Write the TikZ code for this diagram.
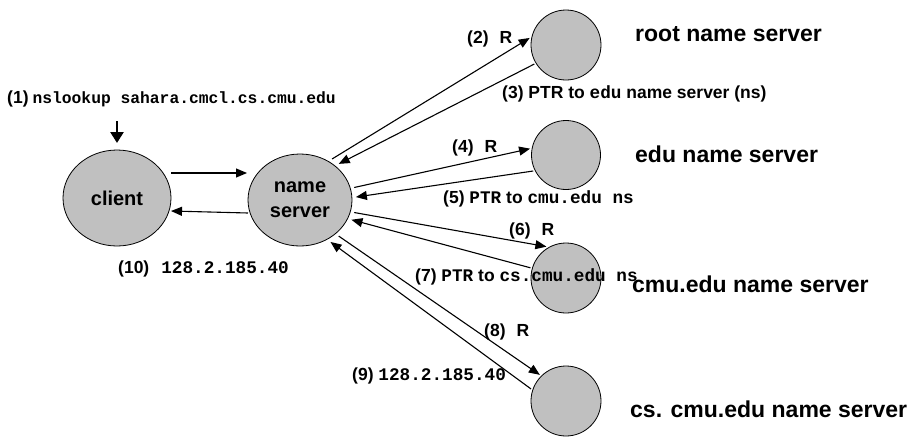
\documentclass[tikz,border=0pt]{standalone}
\usepackage{fontspec}
\setmainfont{Liberation Sans}
\newfontfamily\monof{Liberation Mono}
\usetikzlibrary{arrows.meta,shapes.geometric}
\definecolor{srvgray}{RGB}{192,192,192}
\newcommand\mtxt[1]{{\monof\bfseries\fontsize{17.7}{20}\selectfont #1}}
\begin{document}
\begin{tikzpicture}[x=1pt,y=-1pt,
  srv/.style={circle,draw=black,fill=srvgray,line width=0.8pt,minimum size=70pt,inner sep=0pt,outer sep=2pt},
  ell/.style={ellipse,draw=black,fill=srvgray,line width=0.8pt,inner sep=0pt,align=center,font=\bfseries\fontsize{20}{25}\selectfont},
  lbl/.style={anchor=base west,inner sep=0pt,font=\bfseries\fontsize{17.5}{20}\selectfont},
  big/.style={anchor=base west,inner sep=0pt,font=\bfseries\fontsize{23}{26}\selectfont},
  link/.style={line width=1.1pt,-{Triangle[length=11pt,width=9pt]}},
]
\useasboundingbox (0,0) rectangle (907,437);

% nodes
\node[ell,minimum width=108pt,minimum height=96pt,outer sep=0pt] (client) at (117,198) {client};
\node[ell,minimum width=104pt,minimum height=92pt,outer sep=4pt] (ns) at (300,200) {name\\server};
\node[srv] (root) at (566,45) {};
\node[srv,minimum size=69pt] (edu) at (566,155) {};
\node[srv] (cmu) at (566,278) {};
\node[srv] (cs) at (566,401) {};

% server names
\node[big] (troot) at (635,41) {root name server};
\node[big] (tedu) at (635,162) {edu name server};
\node[big] (tcmu) at (632,292) {cmu.edu name server};
\node[big] (tcs) at (630,417) {cs. cmu.edu name server};

% client side
\coordinate (qtop) at (117,121);
\draw[line width=2.5pt,-{Triangle[length=11pt,width=13pt]}] (qtop) -- ([yshift=7pt]client.north);
\draw[link] ([yshift=25pt]client.east) -- ([yshift=25pt,xshift=3pt]client.east -| ns.west);
\draw[link] ([yshift=-13pt,xshift=4pt]ns.west) -- ([yshift=-13pt]client.east);

% queries and replies
\draw[link] (ns.52) -- (root.169);
\draw[link] (root.211) -- (ns.43);
\draw[link] (ns.13) -- (edu.170);
\draw[link] (edu.206) -- (ns.3);
\draw[link] (ns.-13) -- (cmu.122);
\draw[link] (cmu.164) -- (ns.-21);
\draw[link] (ns.-43) -- (cs.135);
\draw[link] (cs.161) -- (ns.-54);

% labels
\node[lbl] (l1) at (7,103) {(1)\hspace{4pt}{\monof\bfseries\fontsize{16.3}{20}\selectfont nslookup sahara.cmcl.cs.cmu.edu}};
\node[lbl] (l10) at (118,273) {(10)\hspace{12pt}\mtxt{128.2.185.40}};
\node[lbl] (l2) at (467,43) {(2)\hspace{11pt}R};
\node[lbl] (l3) at (502,98) {(3) PTR to {\monof\fontsize{17.7}{20}\selectfont edu} name server (ns)};
\node[lbl] (l4) at (452,152) {(4)\hspace{11pt}R};
\node[lbl] (l5) at (443,203) {(5) \mtxt{PTR} to \mtxt{cmu.edu ns}};
\node[lbl] (l6) at (509,235) {(6)\hspace{11pt}R};
\node[lbl] (l7) at (415,281) {(7) \mtxt{PTR} to \mtxt{cs.cmu.edu ns}};
\node[lbl] (l8) at (484,336) {(8)\hspace{11pt}R};
\node[lbl] (l9) at (352,380) {(9) \mtxt{128.2.185.40}};
\end{tikzpicture}
\end{document}
